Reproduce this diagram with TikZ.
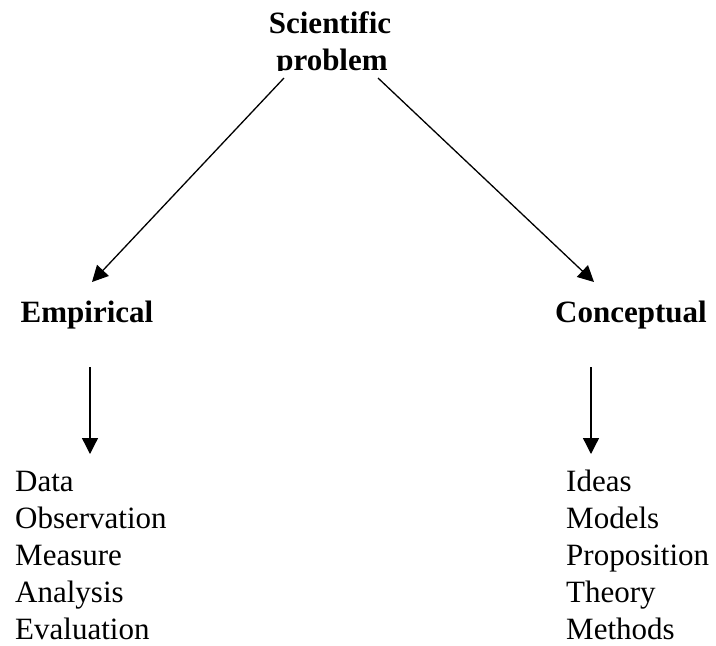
\documentclass[tikz,border=0pt]{standalone}
\usepackage{fontspec}
\setmainfont{Liberation Serif}
\usetikzlibrary{arrows.meta}
\tikzset{
  head/.style={font=\bfseries\fontsize{31}{36}\selectfont, inner sep=0pt, anchor=base},
  item/.style={font=\fontsize{31}{36}\selectfont, inner sep=0pt, anchor=base west},
  arr/.style={line width=1.3pt, -{Triangle[length=16pt,width=16pt]}}
}
\begin{document}
\begin{tikzpicture}[x=1pt,y=-1pt]
	\useasboundingbox (0,0) rectangle (716,646);
	\node[head] (sci) at (330,33) {Scientific};
	\begin{scope}
		\clip (0,0) rectangle (716,70);
		\node[head] (prob) at (332,70) {problem};
	\end{scope}
	\node[head] (emp) at (87,322) {Empirical};
	\node[head] (con) at (631,322) {Conceptual};
	\coordinate (PL) at (284,78);
	\coordinate (PR) at (378,78);
	\coordinate (EL) at (92,282);
	\coordinate (CR) at (594,282);
	\coordinate (E1) at (90,367);
	\coordinate (E2) at (90,454);
	\coordinate (C1) at (591,367);
	\coordinate (C2) at (591,454);
	\draw[arr] (PL) to (EL);
	\draw[arr] (PR) to (CR);
	\draw[arr] (E1) to (E2);
	\draw[arr] (C1) to (C2);
	% left list
	\foreach \t [count=\i] in {Data,Observation,Measure,Analysis,Evaluation}
		\node[item] (e\i) at (15,{454+37*\i}) {\t};
	% right list
	\foreach \t [count=\i] in {Ideas,Models,Proposition,Theory,Methods}
		\node[item] (c\i) at (566,{454+37*\i}) {\t};
\end{tikzpicture}
\end{document}
